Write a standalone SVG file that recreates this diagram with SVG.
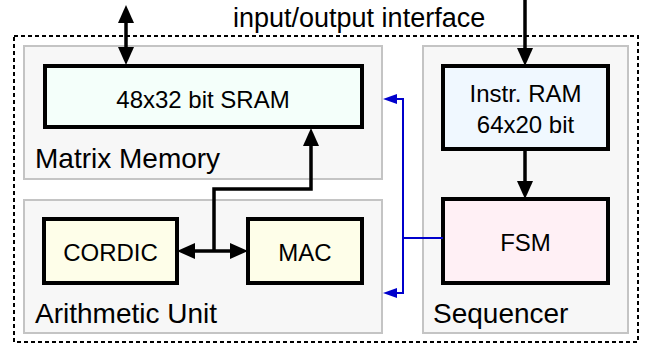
<svg xmlns="http://www.w3.org/2000/svg" width="654" height="352" viewBox="0 0 654 352">
<style>
text{font-family:"Liberation Sans",Arial,Helvetica,sans-serif;fill:#000}
.grp{fill:#f7f7f7;stroke:#c4c4c4;stroke-width:2}
.blk{stroke:#000;stroke-width:4}
.glabel{font-size:28px}
.blabel{font-size:24px;text-anchor:middle}
.io{font-size:27px}
.wire{fill:none;stroke:#000;stroke-width:3.5}
.ctl{fill:none;stroke:#0000cc;stroke-width:2}
</style>
<defs>
<marker id="ah" markerUnits="userSpaceOnUse" markerWidth="20" markerHeight="18" refX="6" refY="8" orient="auto-start-reverse">
<path d="M0,0 L18,8 L0,16 z" fill="#000"/>
</marker>
<marker id="bh" markerUnits="userSpaceOnUse" markerWidth="16" markerHeight="12" refX="4" refY="5" orient="auto-start-reverse">
<path d="M0,0 L14,5 L0,10 z" fill="#0000cc"/>
</marker>
</defs>
<rect width="654" height="352" fill="#fff"/>
<g id="interface">
<rect x="14" y="36" width="624" height="306" fill="none" stroke="#000" stroke-width="2" stroke-dasharray="4,3"/>
<text class="io" x="233" y="27">input/output interface</text>
</g>
<g id="matrix-memory">
<rect class="grp" x="24" y="46" width="358" height="133"/>
<text class="glabel" x="35" y="168">Matrix Memory</text>
</g>
<g id="arithmetic-unit">
<rect class="grp" x="24" y="200" width="358" height="133"/>
<text class="glabel" x="35" y="323">Arithmetic Unit</text>
</g>
<g id="sequencer">
<rect class="grp" x="423" y="46" width="205" height="287"/>
<text class="glabel" x="433" y="323">Sequencer</text>
</g>
<g id="sram">
<rect class="blk" x="45" y="66" width="317" height="61" fill="#f4fffa"/>
<text class="blabel" x="203" y="108">48x32 bit SRAM</text>
</g>
<g id="instr-ram">
<rect class="blk" x="443" y="66" width="165" height="83" fill="#f0f8ff"/>
<text class="blabel" x="525.5" y="102">Instr. RAM</text>
<text class="blabel" x="525.5" y="133">64x20 bit</text>
</g>
<g id="fsm">
<rect class="blk" x="443" y="199" width="165" height="84" fill="#fff0f5"/>
<text class="blabel" x="525.5" y="250.5">FSM</text>
</g>
<g id="cordic">
<rect class="blk" x="44" y="219" width="133" height="64" fill="#fefee9"/>
<text class="blabel" x="110.5" y="260.5">CORDIC</text>
</g>
<g id="mac">
<rect class="blk" x="248" y="219" width="114" height="64" fill="#fefee9"/>
<text class="blabel" x="305" y="260.5">MAC</text>
</g>
<g id="connectors">
<path class="wire" d="M126,17 L126,53" marker-start="url(#ah)" marker-end="url(#ah)"/>
<path class="wire" d="M525,0 L525,54" marker-end="url(#ah)"/>
<path class="wire" d="M525,149 L525,187" marker-end="url(#ah)"/>
<path class="wire" d="M214,251 L214,189 L311,189 L311,140" marker-end="url(#ah)"/>
<path class="wire" d="M189,251 L236,251" marker-start="url(#ah)" marker-end="url(#ah)"/>
<path class="ctl" d="M443,238 L403,238"/>
<path class="ctl" d="M403,238 L403,99 L393,99" marker-end="url(#bh)"/>
<path class="ctl" d="M403,238 L403,293 L393,293" marker-end="url(#bh)"/>
</g>
</svg>
